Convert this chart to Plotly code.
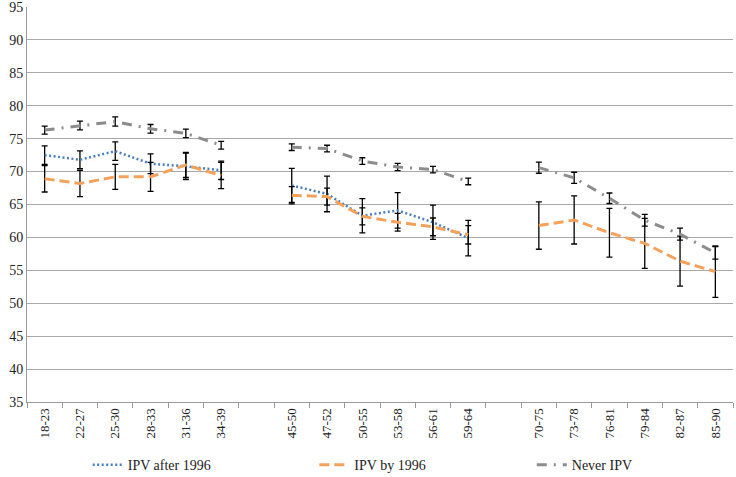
import plotly.graph_objects as go

categories = ["18-23", "22-27", "25-30", "28-33", "31-36", "34-39", "",
              "45-50", "47-52", "50-55", "53-58", "56-61", "59-64", "",
              "70-75", "73-78", "76-81", "79-84", "82-87", "85-90"]

ipv_after = [72.5, 71.8, 73.1, 71.2, 70.8, 70.2, None,
             67.9, 66.6, 63.3, 64.1, 62.3, 59.9, None,
             None, None, None, None, None, None]
ipv_after_err = [1.4, 1.35, 1.4, 1.5, 2.0, 1.4, None,
                 2.6, 2.7, 2.6, 2.7, 2.6, 2.7, None,
                 None, None, None, None, None, None]

ipv_by = [68.9, 68.2, 69.2, 69.2, 71.0, 69.4, None,
          66.4, 66.2, 63.2, 62.3, 61.6, 60.4, None,
          61.8, 62.65, 60.7, 59.1, 56.4, 54.8]
ipv_by_err = [2.0, 2.0, 1.9, 2.2, 1.9, 2.0, None,
              1.3, 1.3, 1.3, 1.35, 1.35, 1.4, None,
              3.6, 3.65, 3.7, 3.8, 3.8, 3.9]

never_ipv = [76.3, 77.0, 77.6, 76.5, 75.8, 74.0, None,
             73.7, 73.5, 71.6, 70.7, 70.3, 68.5, None,
             70.6, 69.05, 65.95, 62.6, 60.5, 57.65]
never_ipv_err = [0.6, 0.65, 0.7, 0.65, 0.65, 0.6, None,
                 0.5, 0.5, 0.5, 0.55, 0.5, 0.5, None,
                 0.85, 0.85, 0.8, 0.9, 0.9, 0.95]

y_ticks = list(range(35, 96, 5))

xs = list(range(len(categories)))
font_family = "Liberation Serif"

fig = go.Figure()

series = [
    ("IPV after 1996", ipv_after, ipv_after_err, "#4A7EBB", "2px,2.5px", 2.5, "legend"),
    ("IPV by 1996", ipv_by, ipv_by_err, "#F5A15A", "10px,5px", 3, "legend2"),
    ("Never IPV", never_ipv, never_ipv_err, "#8C8C8C", "10px,7px,2px,7px", 3, "legend3"),
]

for name, vals, errs, color, dash, w, lg in series:
    fig.add_trace(go.Scatter(
        x=xs, y=vals, name=name, mode="lines",
        line=dict(color=color, dash=dash, width=w),
        connectgaps=False,
        error_y=dict(type="data", array=[e if e is not None else 0 for e in errs],
                     visible=True, color="black", thickness=1.3, width=3),
        legend=lg,
    ))

leg_common = dict(orientation="h", yref="container", y=0.025, xanchor="left",
                  yanchor="middle", font=dict(size=14, family=font_family, color="#222"),
                  bgcolor="rgba(0,0,0,0)")

fig.update_layout(
    template="none",
    width=736, height=477,
    margin=dict(l=27, r=3, t=7, b=75, autoexpand=False),
    paper_bgcolor="white", plot_bgcolor="white",
    font=dict(family=font_family, size=14, color="#222"),
    showlegend=True,
    legend=dict(x=0.086, **leg_common),
    legend2=dict(x=0.407, **leg_common),
    legend3=dict(x=0.715, **leg_common),
)

fig.update_xaxes(
    range=[-0.5, len(categories) - 0.5],
    tickmode="array", tickvals=xs, ticktext=categories,
    tickangle=-90, ticks="", showgrid=False, zeroline=False,
    showline=True, linecolor="#9A9A9A", linewidth=1, automargin=False,
    tickfont=dict(size=13, family=font_family, color="#222"),
    minor=dict(tick0=-0.5, dtick=1, ticks="outside", ticklen=5, tickcolor="#9A9A9A",
               showgrid=False),
)

fig.update_yaxes(
    range=[35, 95], tickmode="array", tickvals=y_ticks,
    showgrid=True, gridcolor="#A9A9A9", gridwidth=1.2, automargin=False,
    zeroline=False, showline=True, linecolor="#9A9A9A", linewidth=1,
    ticks="", ticklabeloverflow="allow",
    tickfont=dict(size=14, family=font_family, color="#222"),
)

fig.write_html("out.html", config={"displayModeBar": False},
               post_script="document.body.style.margin='0';")
